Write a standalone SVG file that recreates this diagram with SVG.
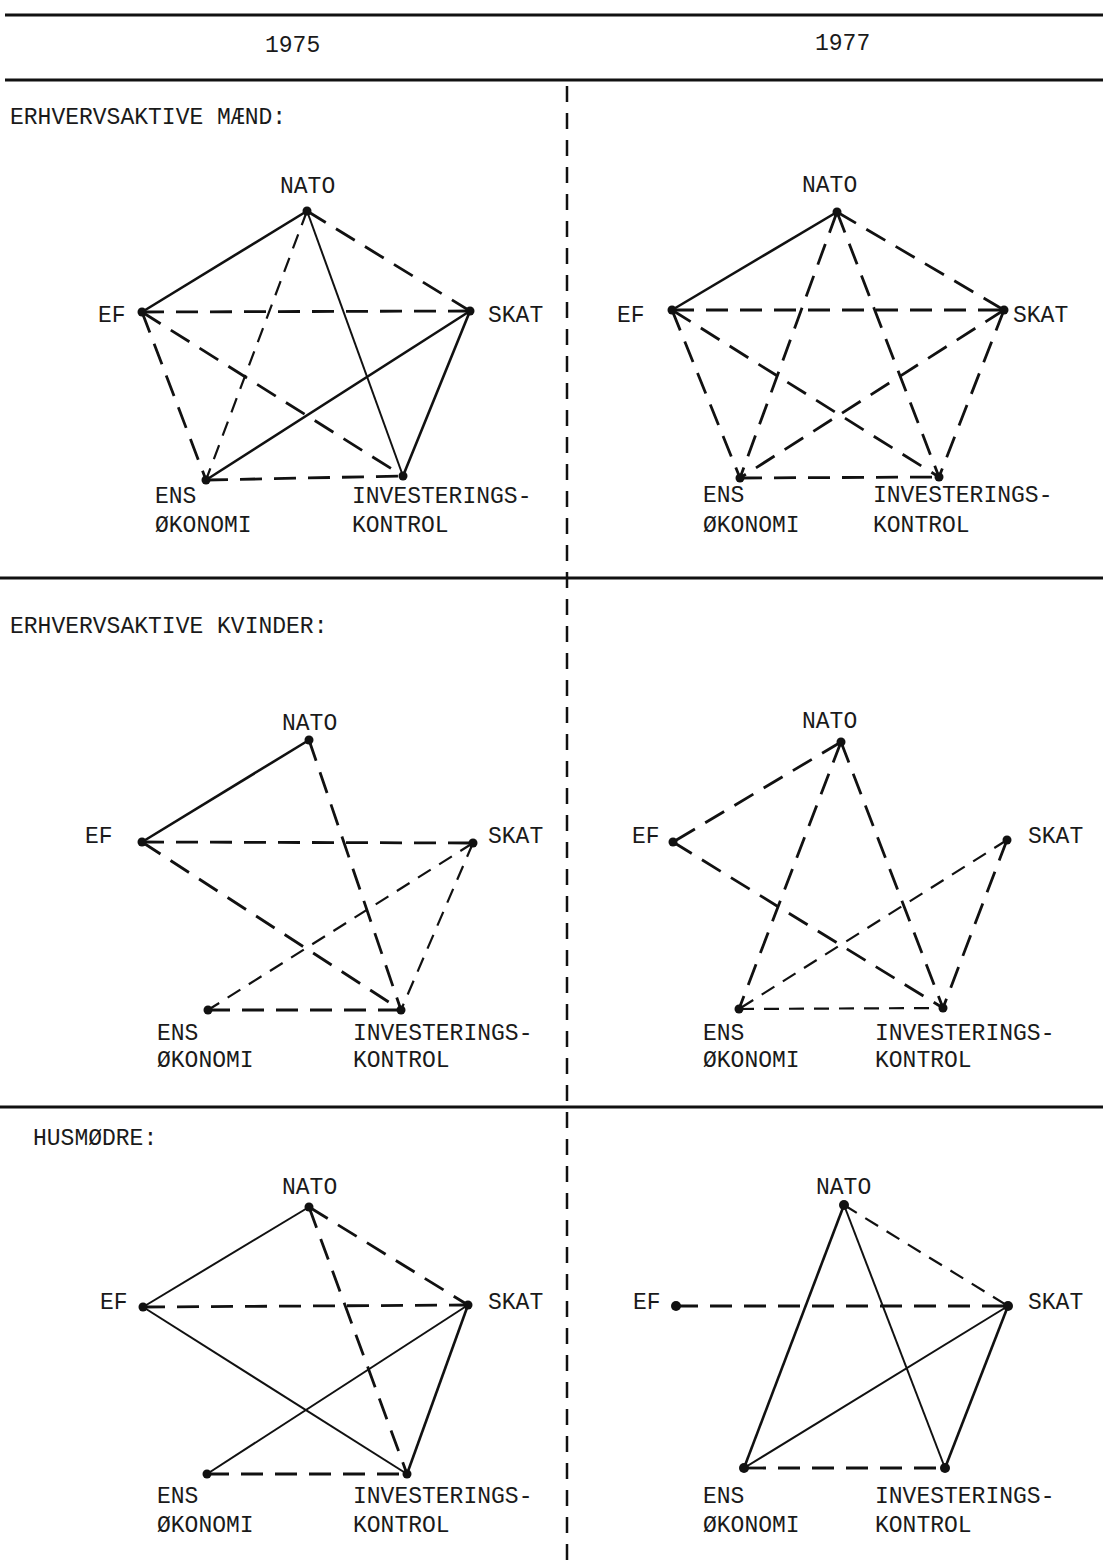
<svg xmlns="http://www.w3.org/2000/svg" width="1103" height="1567" viewBox="0 0 1103 1567">
<style>
text{font-family:"Liberation Mono","DejaVu Sans Mono",monospace;font-size:23px;fill:#1a1a1a}
.rule{stroke:#111;stroke-width:3;fill:none}
.vdiv{stroke:#111;stroke-width:2.5;stroke-dasharray:16 11;fill:none}
.s{stroke:#111;stroke-width:2.6;fill:none}
.st{stroke:#111;stroke-width:2;fill:none}
.d{stroke:#111;stroke-width:2.8;stroke-dasharray:22 12;fill:none}
.df{stroke:#111;stroke-width:2.2;stroke-dasharray:15 10;fill:none}
.dot{fill:#111}
</style>
<rect width="1103" height="1567" fill="#fff"/>
<g id="frame">
<line class="rule" x1="5" y1="15" x2="1103" y2="15"/>
<line class="rule" x1="5" y1="80" x2="1103" y2="80"/>
<line class="rule" x1="0" y1="578" x2="1103" y2="578"/>
<line class="rule" x1="0" y1="1107" x2="1103" y2="1107"/>
<line class="vdiv" x1="567" y1="86" x2="567" y2="1567"/>
<text x="265" y="52">1975</text>
<text x="815" y="50">1977</text>
<text x="10" y="124">ERHVERVSAKTIVE MÆND:</text>
<text x="10" y="633">ERHVERVSAKTIVE KVINDER:</text>
<text x="33" y="1145">HUSMØDRE:</text>
</g>

<!-- Panel 1: Mænd 1975 -->
<g id="connectors-p1">
<line class="s" x1="307" y1="211" x2="142" y2="312"/>
<line class="d" x1="307" y1="211" x2="470" y2="311"/>
<line class="df" x1="307" y1="211" x2="206" y2="480"/>
<line class="st" x1="307" y1="211" x2="403" y2="476"/>
<line class="d" x1="142" y1="312" x2="470" y2="311"/>
<line class="d" x1="142" y1="312" x2="206" y2="480"/>
<line class="d" x1="142" y1="312" x2="403" y2="476"/>
<line class="s" x1="470" y1="311" x2="206" y2="480"/>
<line class="s" x1="470" y1="311" x2="403" y2="476"/>
<line class="d" x1="206" y1="480" x2="403" y2="476"/>
</g>
<g id="p1-nato"><circle class="dot" cx="307" cy="211" r="4.5"/><text x="280" y="193">NATO</text></g>
<g id="p1-ef"><circle class="dot" cx="142" cy="312" r="4.5"/><text x="98" y="322">EF</text></g>
<g id="p1-skat"><circle class="dot" cx="470" cy="311" r="4.5"/><text x="488" y="322">SKAT</text></g>
<g id="p1-ens"><circle class="dot" cx="206" cy="480" r="4.5"/><text x="155" y="503">ENS</text><text x="155" y="532">ØKONOMI</text></g>
<g id="p1-inv"><circle class="dot" cx="403" cy="476" r="4.5"/><text x="352" y="503">INVESTERINGS-</text><text x="352" y="532">KONTROL</text></g>

<!-- Panel 2: Mænd 1977 -->
<g id="connectors-p2">
<line class="s" x1="837" y1="212" x2="672" y2="310"/>
<line class="d" x1="837" y1="212" x2="1004" y2="310"/>
<line class="d" x1="837" y1="212" x2="740" y2="478"/>
<line class="d" x1="837" y1="212" x2="939" y2="477"/>
<line class="d" x1="672" y1="310" x2="1004" y2="310"/>
<line class="d" x1="672" y1="310" x2="740" y2="478"/>
<line class="d" x1="672" y1="310" x2="939" y2="477"/>
<line class="d" x1="1004" y1="310" x2="740" y2="478"/>
<line class="d" x1="1004" y1="310" x2="939" y2="477"/>
<line class="d" x1="740" y1="478" x2="939" y2="477"/>
</g>
<g id="p2-nato"><circle class="dot" cx="837" cy="212" r="4.5"/><text x="802" y="192">NATO</text></g>
<g id="p2-ef"><circle class="dot" cx="672" cy="310" r="4.5"/><text x="617" y="322">EF</text></g>
<g id="p2-skat"><circle class="dot" cx="1004" cy="310" r="4.5"/><text x="1013" y="322">SKAT</text></g>
<g id="p2-ens"><circle class="dot" cx="740" cy="478" r="4.5"/><text x="703" y="502">ENS</text><text x="703" y="532">ØKONOMI</text></g>
<g id="p2-inv"><circle class="dot" cx="939" cy="477" r="4.5"/><text x="873" y="502">INVESTERINGS-</text><text x="873" y="532">KONTROL</text></g>

<!-- Panel 3: Kvinder 1975 -->
<g id="connectors-p3">
<line class="s" x1="309" y1="740" x2="142" y2="842"/>
<line class="d" x1="309" y1="740" x2="401" y2="1010"/>
<line class="d" x1="142" y1="842" x2="473" y2="843"/>
<line class="d" x1="142" y1="842" x2="401" y2="1010"/>
<line class="df" x1="473" y1="843" x2="208" y2="1010"/>
<line class="df" x1="473" y1="843" x2="401" y2="1010"/>
<line class="d" x1="208" y1="1010" x2="401" y2="1010"/>
</g>
<g id="p3-nato"><circle class="dot" cx="309" cy="740" r="4.5"/><text x="282" y="730">NATO</text></g>
<g id="p3-ef"><circle class="dot" cx="142" cy="842" r="4.5"/><text x="85" y="843">EF</text></g>
<g id="p3-skat"><circle class="dot" cx="473" cy="843" r="4.5"/><text x="488" y="843">SKAT</text></g>
<g id="p3-ens"><circle class="dot" cx="208" cy="1010" r="4.5"/><text x="157" y="1040">ENS</text><text x="157" y="1067">ØKONOMI</text></g>
<g id="p3-inv"><circle class="dot" cx="401" cy="1010" r="4.5"/><text x="353" y="1040">INVESTERINGS-</text><text x="353" y="1067">KONTROL</text></g>

<!-- Panel 4: Kvinder 1977 -->
<g id="connectors-p4">
<line class="d" x1="841" y1="742" x2="673" y2="842"/>
<line class="d" x1="841" y1="742" x2="739" y2="1009"/>
<line class="d" x1="841" y1="742" x2="943" y2="1008"/>
<line class="d" x1="673" y1="842" x2="943" y2="1008"/>
<line class="df" x1="1007" y1="840" x2="739" y2="1009"/>
<line class="d" x1="1007" y1="840" x2="943" y2="1008"/>
<line class="df" x1="739" y1="1009" x2="943" y2="1008"/>
</g>
<g id="p4-nato"><circle class="dot" cx="841" cy="742" r="4.5"/><text x="802" y="728">NATO</text></g>
<g id="p4-ef"><circle class="dot" cx="673" cy="842" r="4.5"/><text x="632" y="843">EF</text></g>
<g id="p4-skat"><circle class="dot" cx="1007" cy="840" r="4.5"/><text x="1028" y="843">SKAT</text></g>
<g id="p4-ens"><circle class="dot" cx="739" cy="1009" r="4.5"/><text x="703" y="1040">ENS</text><text x="703" y="1067">ØKONOMI</text></g>
<g id="p4-inv"><circle class="dot" cx="943" cy="1008" r="4.5"/><text x="875" y="1040">INVESTERINGS-</text><text x="875" y="1067">KONTROL</text></g>

<!-- Panel 5: Husmødre 1975 -->
<g id="connectors-p5">
<line class="st" x1="309" y1="1207" x2="143" y2="1307"/>
<line class="d" x1="309" y1="1207" x2="468" y2="1305"/>
<line class="d" x1="309" y1="1207" x2="407" y2="1474"/>
<line class="d" x1="143" y1="1307" x2="468" y2="1305"/>
<line class="st" x1="143" y1="1307" x2="407" y2="1474"/>
<line class="st" x1="468" y1="1305" x2="207" y2="1474"/>
<line class="s" x1="468" y1="1305" x2="407" y2="1474"/>
<line class="d" x1="207" y1="1474" x2="407" y2="1474"/>
</g>
<g id="p5-nato"><circle class="dot" cx="309" cy="1207" r="4.5"/><text x="282" y="1194">NATO</text></g>
<g id="p5-ef"><circle class="dot" cx="143" cy="1307" r="4.5"/><text x="100" y="1309">EF</text></g>
<g id="p5-skat"><circle class="dot" cx="468" cy="1305" r="4.5"/><text x="488" y="1309">SKAT</text></g>
<g id="p5-ens"><circle class="dot" cx="207" cy="1474" r="4.5"/><text x="157" y="1503">ENS</text><text x="157" y="1532">ØKONOMI</text></g>
<g id="p5-inv"><circle class="dot" cx="407" cy="1474" r="4.5"/><text x="353" y="1503">INVESTERINGS-</text><text x="353" y="1532">KONTROL</text></g>

<!-- Panel 6: Husmødre 1977 -->
<g id="connectors-p6">
<line class="df" x1="844" y1="1205" x2="1008" y2="1306"/>
<line class="s" x1="844" y1="1205" x2="744" y2="1468"/>
<line class="st" x1="844" y1="1205" x2="945" y2="1468"/>
<line class="d" x1="676" y1="1306" x2="1008" y2="1306"/>
<line class="st" x1="1008" y1="1306" x2="744" y2="1468"/>
<line class="s" x1="1008" y1="1306" x2="945" y2="1468"/>
<line class="d" x1="744" y1="1468" x2="945" y2="1468"/>
</g>
<g id="p6-nato"><circle class="dot" cx="844" cy="1205" r="5"/><text x="816" y="1194">NATO</text></g>
<g id="p6-ef"><circle class="dot" cx="676" cy="1306" r="5"/><text x="633" y="1309">EF</text></g>
<g id="p6-skat"><circle class="dot" cx="1008" cy="1306" r="5"/><text x="1028" y="1309">SKAT</text></g>
<g id="p6-ens"><circle class="dot" cx="744" cy="1468" r="5"/><text x="703" y="1503">ENS</text><text x="703" y="1532">ØKONOMI</text></g>
<g id="p6-inv"><circle class="dot" cx="945" cy="1468" r="5"/><text x="875" y="1503">INVESTERINGS-</text><text x="875" y="1532">KONTROL</text></g>
</svg>
